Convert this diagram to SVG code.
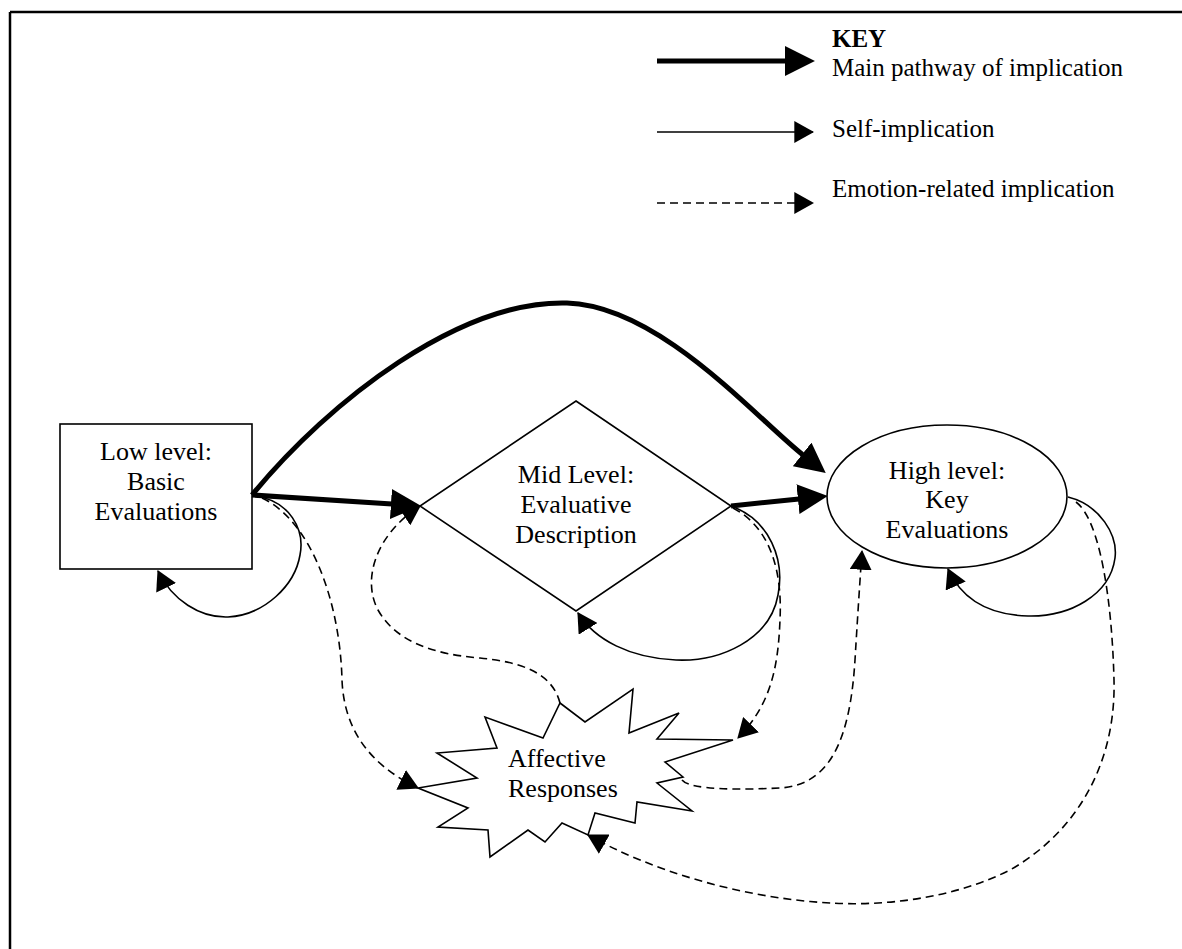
<svg xmlns="http://www.w3.org/2000/svg" width="1182" height="949" viewBox="0 0 1182 949">
<style>
.frame{stroke:#000;stroke-width:2.5;fill:none}
.node{fill:#fff;stroke:#000;stroke-width:1.6}
.t{font-family:"Liberation Serif","Times New Roman",serif;font-size:26px;fill:#000}
.lg{font-family:"Liberation Serif","Times New Roman",serif;font-size:25px;fill:#000}
.thick{fill:none;stroke:#000;stroke-width:5}
.thin{fill:none;stroke:#000;stroke-width:1.6}
.dash{fill:none;stroke:#000;stroke-width:1.6;stroke-dasharray:8 5}
</style>
<defs>
<marker id="ahThick" markerUnits="userSpaceOnUse" markerWidth="30" markerHeight="30" viewBox="0 0 28 28" refX="1" refY="14" orient="auto"><path d="M0,0 L28,14 L0,28 z" fill="#000"/></marker>
<marker id="ah" markerUnits="userSpaceOnUse" markerWidth="20" markerHeight="22" viewBox="0 0 18 20" refX="17" refY="10" orient="auto"><path d="M0,0 L18,10 L0,20 z" fill="#000"/></marker>
</defs>
<rect width="1182" height="949" fill="#fff"/>
<g id="frame">
<line class="frame" x1="10" y1="12" x2="1182" y2="12"/>
<line class="frame" x1="10" y1="12" x2="10" y2="949"/>
</g>
<g id="legend">
<text class="lg" x="832" y="47" font-weight="bold">KEY</text>
<text class="lg" x="832" y="76">Main pathway of implication</text>
<text class="lg" x="832" y="137">Self-implication</text>
<text class="lg" x="832" y="197">Emotion-related implication</text>
<path class="thick" d="M657,61 L786,61" marker-end="url(#ahThick)"/>
<path class="thin" d="M657,132 L813,132" marker-end="url(#ah)"/>
<path class="dash" d="M657,203 L813,203" marker-end="url(#ah)"/>
</g>
<g id="node-low">
<rect class="node" x="60" y="424" width="192" height="145"/>
<text class="t" x="156" y="460" text-anchor="middle">Low level:</text>
<text class="t" x="156" y="490" text-anchor="middle">Basic</text>
<text class="t" x="156" y="520" text-anchor="middle">Evaluations</text>
</g>
<g id="node-mid">
<polygon class="node" points="576,401 731,506 576,611 420,506"/>
<text class="t" x="576" y="483" text-anchor="middle">Mid Level:</text>
<text class="t" x="576" y="513" text-anchor="middle">Evaluative</text>
<text class="t" x="576" y="543" text-anchor="middle">Description</text>
</g>
<g id="node-high">
<ellipse class="node" cx="947" cy="496.5" rx="120" ry="71.5"/>
<text class="t" x="947" y="479" text-anchor="middle">High level:</text>
<text class="t" x="947" y="508" text-anchor="middle">Key</text>
<text class="t" x="947" y="538" text-anchor="middle">Evaluations</text>
</g>
<g id="node-affective">
<polygon class="node" points="560,703 585,722 633,689 629,733 679,713 657,739 733,740 665,762 683,777 657,783 692,811 637,802 635,823 595,813 588,835 562,823 545,842 528,830 490,857 488,830 438,827 468,808 418,788 477,778 437,753 497,748 485,717 543,738"/>
<text class="t" x="508" y="767">Affective</text>
<text class="t" x="508" y="797">Responses</text>
</g>
<g id="connectors">
<path class="thick" d="M252,495 C330,400 460,300 567,303 C660,306 756,418 803,455" marker-end="url(#ahThick)"/>
<path class="thick" d="M252,495 L392,504" marker-end="url(#ahThick)"/>
<path class="thick" d="M731,506 L799,499" marker-end="url(#ahThick)"/>
<path class="thin" d="M254,496 C290,500 305,530 300,555 C295,585 265,615 228,617 C200,618 172,600 158,571" marker-end="url(#ah)"/>
<path class="thin" d="M731,506 C770,520 785,560 778,595 C770,640 720,662 676,660 C630,658 595,640 578,613" marker-end="url(#ah)"/>
<path class="thin" d="M1068,497 C1100,505 1118,535 1115,558 C1110,595 1070,617 1028,616 C990,615 962,600 948,569" marker-end="url(#ah)"/>
<path class="dash" d="M262,498 C310,520 340,600 342,680 C344,730 370,765 418,788" marker-end="url(#ah)"/>
<path class="dash" d="M560,703 C552,672 520,662 480,658 C430,654 395,640 378,610 C362,580 375,535 420,506" marker-end="url(#ah)"/>
<path class="dash" d="M733,508 C775,530 782,580 780,620 C778,670 770,705 738,738" marker-end="url(#ah)"/>
<path class="dash" d="M682,780 C690,790 740,790 780,788 C830,785 850,740 855,660 C858,610 860,580 862,551" marker-end="url(#ah)"/>
<path class="dash" d="M1076,502 C1100,520 1112,600 1114,680 C1116,760 1080,830 1010,870 C950,900 880,906 830,903 C740,898 650,870 588,835" marker-end="url(#ah)"/>
</g>
</svg>
